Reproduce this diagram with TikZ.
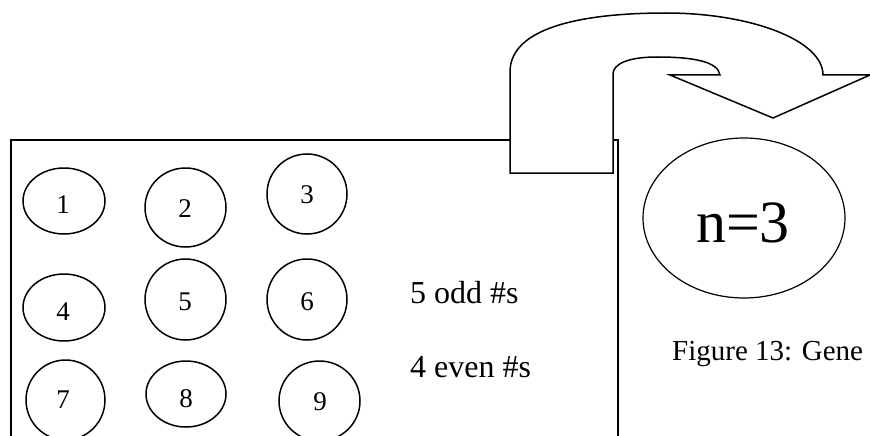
\documentclass[tikz,border=0pt]{standalone}
\usepackage{fontspec}
\setmainfont{Liberation Serif}
\usetikzlibrary{shapes.geometric}
\begin{document}
\begin{tikzpicture}[x=1pt,y=-1pt,
  ln/.style={line width=1.5pt},
  ball/.style={ellipse, draw, line width=1.5pt, inner sep=0pt},
  lab/.style={anchor=base, inner sep=0pt, font=\fontsize{27}{31}\selectfont},
  txt/.style={anchor=base west, inner sep=0pt, font=\fontsize{32}{37}\selectfont}]
\useasboundingbox (0,0) rectangle (870,436);
\clip (0,0) rectangle (870,436);
% box
\coordinate (bl) at (11,446);
\coordinate (tl) at (11,140);
\coordinate (tr) at (618,140);
\coordinate (br) at (618,446);
\draw[ln] (bl) -- (tl) -- (tr) -- (br);
% curved arrow
\draw[ln, fill=white, line join=miter]
  (510,173) -- (510,72)
  .. controls (510,25) and (590,13) .. (666,13)
  .. controls (750,13) and (823,40) .. (823,75)
  -- (870,75) -- (773,118) -- (670,75) -- (720,75)
  .. controls (718,62) and (695,57) .. (657,57)
  .. controls (628,57) and (613,64) .. (613,74)
  -- (613,173) -- cycle;
% balls
\node[ball, minimum width=82pt, minimum height=66pt] (c1) at (64,201) {};
\node[ball, minimum width=81pt, minimum height=79pt] (c2) at (185.5,207.5) {};
\node[ball, minimum width=80pt, minimum height=80pt] (c3) at (307,194) {};
\node[ball, minimum width=82pt, minimum height=67pt] (c4) at (64,307.5) {};
\node[ball, minimum width=81pt, minimum height=81pt] (c5) at (185.5,299.5) {};
\node[ball, minimum width=80pt, minimum height=81pt] (c6) at (307,299.5) {};
\node[ball, minimum width=79pt, minimum height=80pt] (c7) at (65.5,400) {};
\node[ball, minimum width=80pt, minimum height=66pt] (c8) at (186,394) {};
\node[ball, minimum width=81pt, minimum height=80pt] (c9) at (319.5,401) {};
\node[lab] (l1) at (63,213) {1};
\node[lab] (l2) at (185,217) {2};
\node[lab] (l3) at (307,203) {3};
\node[lab] (l4) at (63,320) {4};
\node[lab] (l5) at (185,310) {5};
\node[lab] (l6) at (307,310) {6};
\node[lab] (l7) at (63,408) {7};
\node[lab] (l8) at (186,407) {8};
\node[lab] (l9) at (320,410) {9};
% texts
\node[txt] (odd) at (410,303) {5 odd \#s};
\node[txt] (even) at (410,377) {4 even \#s};
\node[txt, font=\fontsize{29}{34}\selectfont] (cap) at (672,360) {Figure 13: Gene};
% n=3
\node[ellipse, draw, line width=1.2pt, minimum width=202pt, minimum height=160pt, inner sep=0pt] (n) at (744,218) {};
\node[anchor=base, inner sep=0pt, font=\fontsize{60}{70}\selectfont] (nt) at (743,242) {n=3};
\end{tikzpicture}
\end{document}
